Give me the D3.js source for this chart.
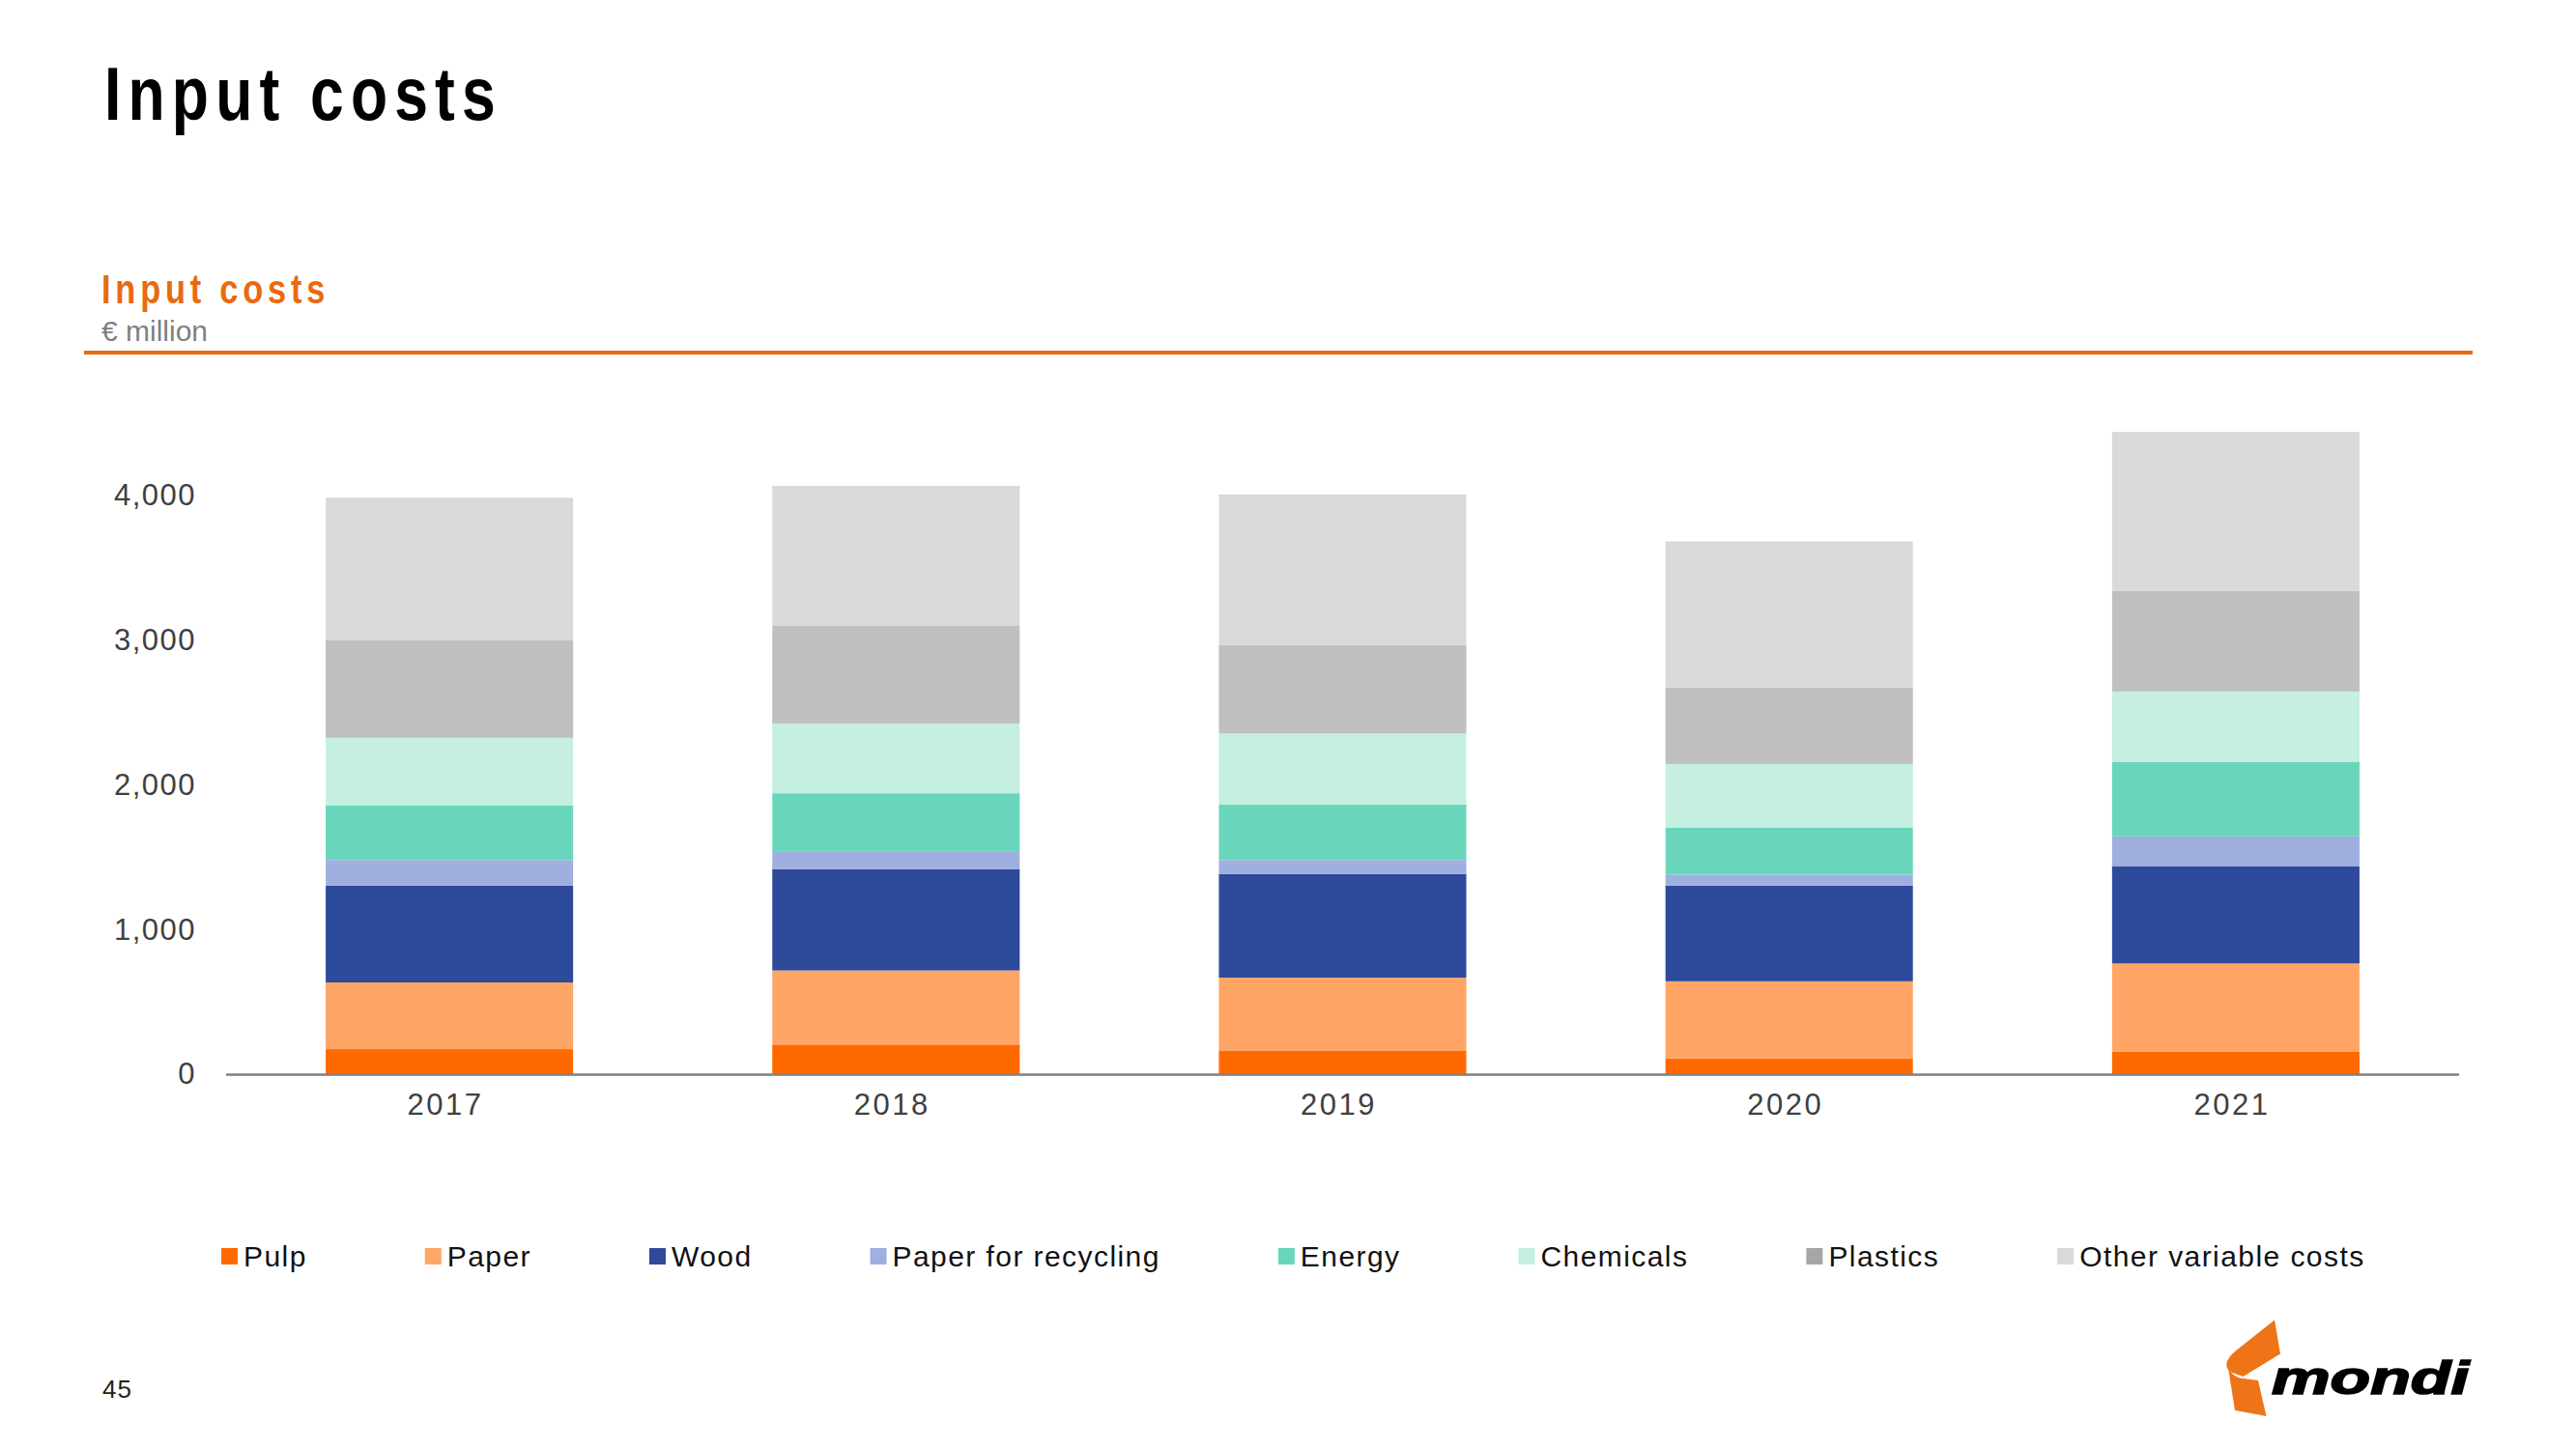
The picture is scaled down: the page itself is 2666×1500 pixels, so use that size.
<!DOCTYPE html>
<html>
<head>
<meta charset="utf-8">
<script src="https://cdn.jsdelivr.net/npm/d3@7"></script>
<style>
  html, body { margin: 0; padding: 0; background: #ffffff; }
  svg { display: block; }
  text { font-family: "Liberation Sans", Arial, sans-serif; }
</style>
</head>
<body>
<svg id="chart" width="2666" height="1500"></svg>
<script>
// ---- Data (€ million) ----
const years = ["2017", "2018", "2019", "2020", "2021"];
const seriesNames = ["Pulp", "Paper", "Wood", "Paper for recycling", "Energy", "Chemicals", "Plastics", "Other variable costs"];
const pulp      = [173, 205, 164, 110, 157];
const paper     = [461, 512, 503, 532, 608];
const wood      = [668, 700, 715, 661, 670];
const recycling = [178, 119,  98,  75, 208];
const energy    = [376, 405, 382, 324, 516];
const chemicals = [468, 482, 494, 441, 485];
const plastics  = [673, 674, 610, 528, 696];
const other     = [986, 968, 1040, 1010, 1098];
const yTicks = [0, 1000, 2000, 3000, 4000];

const seriesValues = [pulp, paper, wood, recycling, energy, chemicals, plastics, other];
const barColors    = ["#FF6A00", "#FFA566", "#2E4A9A", "#9FAFE0", "#69D6BB", "#C4EFE1", "#BFBFBF", "#D9D9D9"];
const legendColors = ["#FF6A00", "#FFA566", "#2E4A9A", "#9FAFE0", "#69D6BB", "#C4EFE1", "#A6A6A6", "#D9D9D9"];

const svg = d3.select("#chart");
const orange = "#E96A10";

// ---- Header ----
svg.append("text")
  .attr("transform", "translate(108,124) scale(0.8,1)")
  .attr("font-size", 78).attr("font-weight", "bold")
  .attr("letter-spacing", 9).attr("fill", "#000")
  .text("Input costs");

svg.append("text")
  .attr("transform", "translate(105,314) scale(0.8,1)")
  .attr("font-size", 43).attr("font-weight", "bold")
  .attr("letter-spacing", 6).attr("fill", orange)
  .text("Input costs");

svg.append("text")
  .attr("x", 105).attr("y", 353)
  .attr("font-size", 30).attr("fill", "#7F7F7F")
  .text("€ million");

svg.append("line")
  .attr("x1", 87).attr("x2", 2559).attr("y1", 365).attr("y2", 365)
  .attr("stroke", orange).attr("stroke-width", 4);

// ---- Scales ----
const x = d3.scaleBand().domain(years).range([234, 2545]).paddingInner(0.446).paddingOuter(0.223);
const y = d3.scaleLinear().domain([0, 4000]).range([1112, 512.7]);

// ---- Stack ----
const rows = years.map((yr, i) => {
  const r = { year: yr };
  seriesNames.forEach((n, k) => r[n] = seriesValues[k][i]);
  return r;
});
const stacked = d3.stack().keys(seriesNames)(rows);

const g = svg.append("g");
g.selectAll("g.series").data(stacked).join("g")
  .attr("fill", (d, i) => barColors[i])
  .selectAll("rect").data(d => d).join("rect")
  .attr("x", d => x(d.data.year))
  .attr("width", x.bandwidth())
  .attr("y", d => y(d[1]))
  .attr("height", d => y(d[0]) - y(d[1]));

// ---- Y axis (labels only) ----
const yAxis = svg.append("g").attr("transform", "translate(203,0)")
  .call(d3.axisLeft(y).tickValues(yTicks).tickSize(0).tickPadding(0).tickFormat(d3.format(",")));
yAxis.select(".domain").remove();
yAxis.selectAll("text")
  .attr("font-family", "Liberation Sans, Arial, sans-serif")
  .attr("font-size", 31).attr("letter-spacing", 1.5).attr("fill", "#404040");

// ---- X axis ----
const xAxis = svg.append("g").attr("transform", `translate(0,${y(0)})`)
  .call(d3.axisBottom(x).tickSize(0).tickPadding(20));
xAxis.select(".domain").remove();
xAxis.selectAll("text")
  .attr("font-family", "Liberation Sans, Arial, sans-serif")
  .attr("font-size", 31).attr("letter-spacing", 2.5).attr("dx", -4).attr("fill", "#404040");
svg.append("line")
  .attr("x1", 234).attr("x2", 2545).attr("y1", y(0) + 0.5).attr("y2", y(0) + 0.5)
  .attr("stroke", "#808080").attr("stroke-width", 2.5);

// ---- Legend ----
const legend = svg.append("g");
let lx = 229;
seriesNames.forEach((name, i) => {
  legend.append("rect")
    .attr("x", lx).attr("y", 1292).attr("width", 17).attr("height", 17)
    .attr("fill", legendColors[i]);
  const t = legend.append("text")
    .attr("x", lx + 23).attr("y", 1311)
    .attr("font-size", 30).attr("letter-spacing", 1.43).attr("fill", "#111")
    .text(name);
  const w = t.node().getComputedTextLength();
  lx = lx + 23 + w + 122;
});

// ---- Page number ----
svg.append("text")
  .attr("x", 106).attr("y", 1447)
  .attr("font-size", 26).attr("letter-spacing", 1).attr("fill", "#222")
  .text("45");

// ---- Logo ----
const logo = svg.append("g");
logo.append("path")
  .attr("d", "M2354,1366.5 L2360,1401.5 L2321.5,1425 L2310,1421 Q2302,1416 2305,1409 Q2308,1403 2313,1399 Z")
  .attr("fill", "#EF7418");
logo.append("path")
  .attr("d", "M2306,1416 Q2310,1424 2318,1426.5 L2337,1429 L2345.5,1466 L2313,1460 Z")
  .attr("fill", "#EF7418");
logo.append("text")
  .attr("transform", "translate(2351,1443) scale(1.42,1)")
  .attr("font-size", 48).attr("font-weight", "bold").attr("font-style", "italic")
  .attr("fill", "#000").attr("stroke", "#000").attr("stroke-width", 1.6)
  .text("mondi");
</script>
</body>
</html>
